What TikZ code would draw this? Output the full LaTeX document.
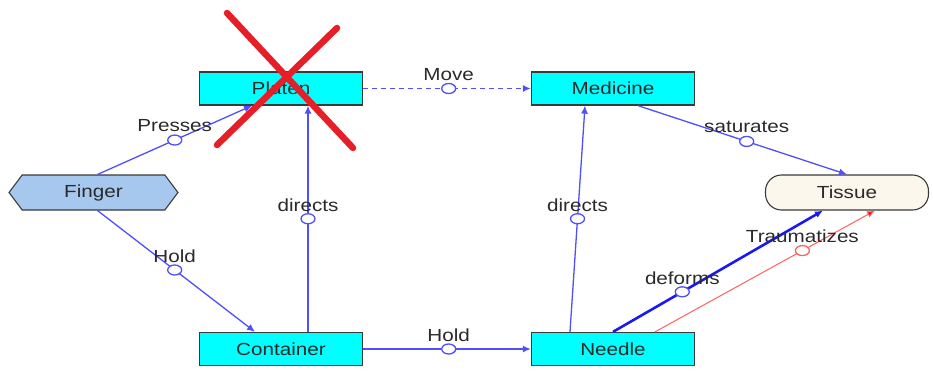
\documentclass[tikz,border=0pt]{standalone}
\usepackage{fontspec}
\setmainfont{Liberation Sans}[FakeStretch=1.18]
\usetikzlibrary{arrows.meta,shapes.geometric,shapes.symbols}
\definecolor{cyanbox}{HTML}{00FFFF}
\definecolor{fingerfill}{HTML}{A7C8EE}
\definecolor{tissuefill}{HTML}{FBF7EC}
\definecolor{edgeblue}{HTML}{4F4FFF}
\definecolor{deepblue}{HTML}{1A1AF0}
\definecolor{xred}{HTML}{E61E28}
\definecolor{redline}{HTML}{FF6060}
\definecolor{bordergray}{HTML}{3A3A3A}
\definecolor{lblgray}{HTML}{2A2A2A}
\tikzset{
  box/.style={draw=bordergray, line width=1.3pt, fill=cyanbox, minimum width=163, minimum height=33, inner sep=0, text=lblgray, font=\fontsize{17.5}{19}\selectfont},
  hexa/.style={shape=signal, signal to=east and west, signal pointer angle=106, draw=bordergray, line width=1.1pt, fill=fingerfill, minimum width=169, minimum height=35, inner sep=0, text=lblgray, font=\fontsize{17.5}{19}\selectfont},
  pill/.style={draw=bordergray, line width=1.1pt, fill=tissuefill, rounded corners=16, minimum width=163, minimum height=35, inner sep=0, text=lblgray, font=\fontsize{17.5}{19}\selectfont},
  rel/.style={draw=edgeblue, line width=1.3pt, -{Latex[length=8,width=7]}},
  mk/.style={ellipse, draw=edgeblue, line width=1.3pt, fill=white, minimum width=14, minimum height=10, inner sep=0},
  lbl/.style={text=lblgray, font=\fontsize{17.5}{19}\selectfont, yshift=14, inner sep=0},
  xline/.style={draw=xred, line width=6.5pt, line cap=round}
}
\begin{document}
\begin{tikzpicture}[x=1pt,y=-1pt]
\useasboundingbox (0,0) rectangle (933,374);
\node[box] (pla) at (281,88.5) {Platen};
\node[box] (med) at (613,88.5) {Medicine};
\node[hexa] (fin) at (93.5,192.5) {Finger};
\node[pill] (tis) at (847,192.5) {Tissue};
\node[box] (con) at (281,349) {Container};
\node[box] (nee) at (613,349) {Needle};
% edges
\draw[rel] ([xshift=4]fin.north) -- ([xshift=-29]pla.south)
  node[pos=0.5,mk]{} node[pos=0.5,lbl]{Presses};
\draw[rel] ([xshift=27]con.north) -- ([xshift=27]pla.south)
  node[pos=0.5,mk]{} node[pos=0.5,lbl]{directs};
\draw[rel, dash pattern=on 5pt off 4pt] (pla.east) -- (med.west)
  node[pos=0.51,mk, solid]{} node[pos=0.51,lbl]{Move};
\draw[rel] ([xshift=25]med.south) -- ([xshift=0]tis.north)
  node[pos=0.52,mk]{} node[pos=0.52,lbl]{saturates};
\draw[rel] ([xshift=4]fin.south) -- ([xshift=-26]con.north)
  node[pos=0.49,mk]{} node[pos=0.49,lbl]{Hold};
\draw[rel] (con.east) -- (nee.west)
  node[pos=0.51,mk]{} node[pos=0.51,lbl]{Hold};
\draw[rel] ([xshift=-43]nee.north) -- ([xshift=-28]med.south)
  node[pos=0.5,mk]{} node[pos=0.5,lbl]{directs};
\draw[rel, draw=deepblue, line width=2.6pt] (nee.north) -- ([xshift=-24]tis.south)
  node[pos=0.33,mk]{} node[pos=0.33,lbl]{deforms};
\draw[rel, draw=redline, line width=1pt, -{Latex[length=8,width=7,fill=red]}] ([xshift=42]nee.north) -- ([xshift=28]tis.south)
  node[pos=0.67,mk,draw=redline]{} node[pos=0.67,lbl]{Traumatizes};
% red cross
\draw[xline] (227,13) -- (353,148);
\draw[xline] (337,28) -- (217,145);
\end{tikzpicture}
\end{document}
